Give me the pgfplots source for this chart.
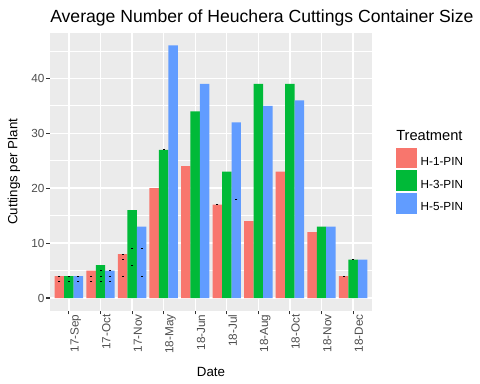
\documentclass[border=0pt]{standalone}
\usepackage{pgfplots}
\pgfplotsset{compat=1.18}
\usepackage{fontspec}
\setmainfont{Liberation Sans}
\definecolor{c1}{HTML}{F8766D}
\definecolor{c2}{HTML}{00BA38}
\definecolor{c3}{HTML}{619CFF}
\definecolor{ggbg}{HTML}{EBEBEB}
\definecolor{gg20}{HTML}{333333}
\definecolor{gg30}{HTML}{4D4D4D}
\newcommand{\tf}{\fontsize{8.8}{10}\selectfont}
\begin{document}
\begin{tikzpicture}
\useasboundingbox (-37.5pt,-55pt) rectangle (322.5pt,233pt);
\begin{axis}[
  scale only axis,
  width=241.5pt, height=208.4pt,
  xmin=0.4, xmax=10.6, ymin=-2.3, ymax=48.3,
  axis background/.style={fill=ggbg},
  axis line style={draw=none},
  tick align=outside,
  major tick length=2.75pt,
  minor tick length=0pt,
  tick style={gg20, line width=0.8pt},
  xtick={1,...,10},
  xticklabels={17-Sep,17-Oct,17-Nov,18-May,18-Jun,18-Jul,18-Aug,18-Oct,18-Nov,18-Dec},
  ytick={0,10,20,30,40},
  minor ytick={5,15,25,35,45},
  xtick pos=left, ytick pos=left,
  xmajorgrids, ymajorgrids, yminorgrids,
  major grid style={white, line width=1.07pt},
  minor grid style={white, line width=0.53pt},
  /pgf/number format/assume math mode=true,
  xticklabel style={font=\tf, text=gg30, rotate=90, anchor=north east, inner sep=0pt, yshift=-1pt},
  yticklabel style={font=\tf, text=gg30, anchor=east, inner sep=0pt, xshift=-1.2pt},
  xlabel={Date},
  ylabel={Cuttings per Plant},
  label style={font=\fontsize{11}{13}\selectfont},
  every axis x label/.style={at={(axis description cs:0.5,-0.2353)}, anchor=base, inner sep=0pt},
  every axis y label/.style={at={(axis description cs:-0.112,0.5)}, rotate=90, anchor=center, inner sep=0pt},
  legend image code/.code={\fill[#1] (0pt,-4.5pt) rectangle (15.5pt,11pt);},
  legend cell align=left,
  legend style={at={(axis description cs:1.0745,0.586)}, anchor=north west, draw=none, fill=none,
    inner sep=0pt, outer sep=0pt, row sep=1.5pt,
    font=\tf,
    nodes={inner sep=0pt},
    /tikz/every odd column/.style={column sep=3pt}},
  clip=false,
]
\addplot[ybar, bar width=0.3, bar shift=-0.3, fill=c1, draw=none] coordinates {
 (1,4) (2,5) (3,8) (4,20) (5,24) (6,17) (7,14) (8,23) (9,12) (10,4)};
\addplot[ybar, bar width=0.3, bar shift=0, fill=c2, draw=none] coordinates {
 (1,4) (2,6) (3,16) (4,27) (5,34) (6,23) (7,39) (8,39) (9,13) (10,7)};
\addplot[ybar, bar width=0.3, bar shift=0.3, fill=c3, draw=none] coordinates {
 (1,4) (2,5) (3,13) (4,46) (5,39) (6,32) (7,35) (8,36) (9,13) (10,7)};
\addplot[only marks, mark=-, mark size=0.75pt, mark options={black, line width=0.75pt}, forget plot] coordinates {
 (0.7,4) (0.7,3) (1.0,4) (1.0,3) (1.3,4) (1.3,3)
 (1.7,4) (1.7,3) (2.0,5) (2.0,4) (2.0,3) (2.3,5) (2.3,4) (2.3,3)
 (2.7,8) (2.7,7) (2.7,4) (3.0,9) (3.0,6) (3.3,9) (3.3,4)
 (4.0,27) (5.7,17) (6.3,18) (9.7,4) (10.0,7)};
\node[anchor=west, inner sep=0pt, font=\fontsize{11}{13}\selectfont] at (axis description cs:1.0745,0.632) {Treatment};
\node[anchor=base west, inner sep=0pt, font=\fontsize{13.2}{15}\selectfont] at (axis description cs:0,1.0385) {Average Number of Heuchera Cuttings Container Size};
\legend{H-1-PIN,H-3-PIN,H-5-PIN}
\end{axis}
\end{tikzpicture}
\end{document}
